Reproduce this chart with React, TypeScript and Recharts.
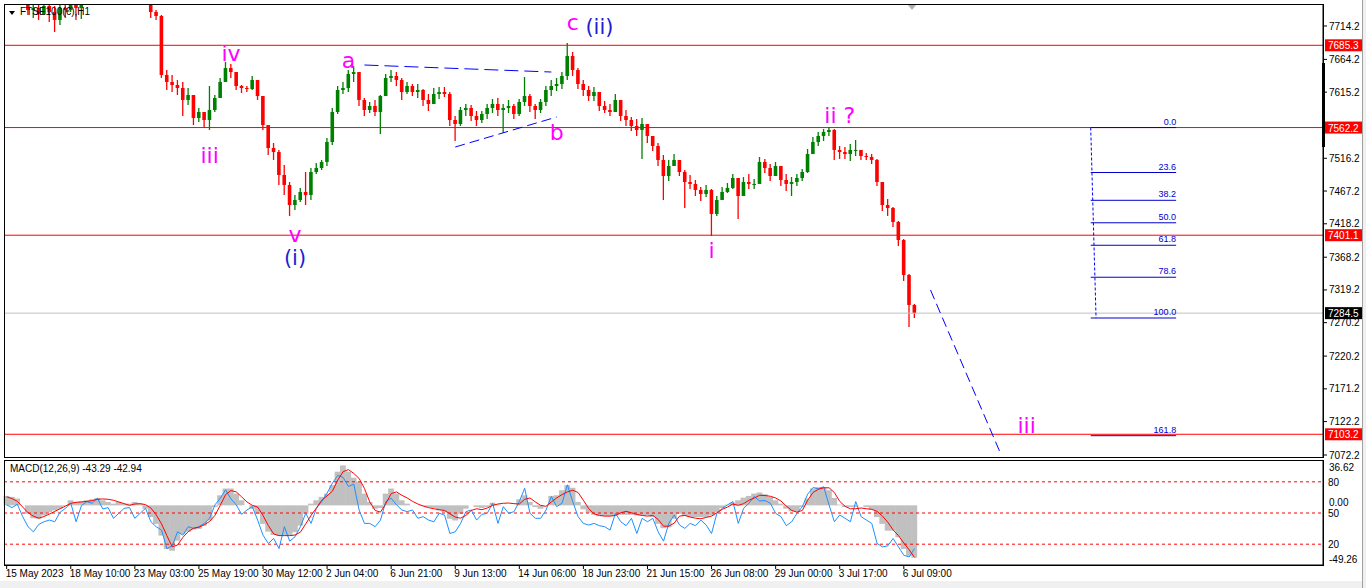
import React from "react";
import { ComposedChart, Bar, Line, XAxis, YAxis, ReferenceLine, ReferenceDot } from "recharts";

const FONT = "'Liberation Sans', Arial, sans-serif";
const WAVE_FONT = "'DejaVu Sans', sans-serif";
const MAGENTA = "#ff00ff";
const NAVY = "#1f1fd0";
const FIB_BLUE = "#0000cd";
const UP = "#008000";
const DOWN = "#ff0000";

// hourly slots on the time axis (data + empty space to the right)
const SLOTS = 247;

// FTSE100 H1 candles (open = previous close)
const firstOpen = 7762;
const highs = [
  7782, 7778, 7772, 7770, 7762, 7758, 7755, 7760, 7757, 7744.1,
  7752, 7760, 7765, 7762, 7765, 7778, 7790, 7798, 7795, 7792,
  7805, 7800, 7790, 7785, 7782, 7775, 7768, 7760, 7738.1, 7730.7,
  7648.3, 7640.9, 7633.4, 7630.4, 7621.4, 7610.9, 7591.5, 7585.5, 7624.4, 7610.9,
  7636.4, 7660.3, 7657.3, 7645.3, 7625.9, 7624.4, 7639.4, 7633.4, 7609.4, 7566.0,
  7539.1, 7528.7, 7506.2, 7480.7, 7461.3, 7471.8, 7495.7, 7501.7, 7509.2, 7513.7,
  7546.6, 7591.5, 7624.4, 7630.4, 7648.3, 7654.3, 7642.4, 7606.4, 7600.5, 7603.5,
  7610.9, 7642.4, 7648.3, 7645.3, 7636.4, 7630.4, 7627.4, 7627.4, 7619.9, 7612.4,
  7621.4, 7622.9, 7622.9, 7615.4, 7579.5, 7593.0, 7597.5, 7596.0, 7587.0, 7587.0,
  7597.5, 7604.9, 7606.4, 7597.5, 7603.5, 7597.5, 7604.9, 7637.9, 7612.4, 7597.5,
  7604.9, 7624.4, 7633.4, 7636.4, 7645.3, 7688.8, 7675.3, 7651.3, 7633.4, 7624.4,
  7622.9, 7607.9, 7602.0, 7597.5, 7612.4, 7603.5, 7588.5, 7578.0, 7575.0, 7576.5,
  7567.5, 7549.6, 7539.1, 7521.1, 7513.7, 7522.6, 7512.2, 7498.7, 7491.2, 7483.7,
  7473.3, 7476.3, 7470.3, 7459.8, 7473.3, 7479.2, 7492.7, 7477.8, 7488.2, 7492.7,
  7485.2, 7518.1, 7515.2, 7507.7, 7510.7, 7503.2, 7492.7, 7488.2, 7492.7, 7500.2,
  7530.1, 7548.1, 7555.6, 7560.1, 7562.2, 7560.1, 7534.6, 7533.1, 7537.6, 7543.6,
  7525.6, 7524.1, 7522.6, 7515.2, 7479.2, 7455.3, 7443.3, 7422.4, 7395.4, 7343.1,
  7298.2,
];
const lows = [
  7756, 7752, 7750, 7748, 7730.7, 7726.2, 7723.2, 7730.7, 7720.2, 7705.2,
  7715.7, 7726.2, 7735.1, 7723.2, 7724.7, 7747, 7760, 7772, 7770, 7765,
  7778, 7775, 7762, 7758, 7755, 7750, 7747, 7726.2, 7723.2, 7636.4,
  7618.4, 7615.4, 7610.9, 7579.5, 7596.0, 7566.0, 7570.5, 7561.6, 7558.6, 7585.5,
  7606.4, 7630.4, 7636.4, 7618.4, 7613.9, 7615.4, 7618.4, 7603.5, 7558.6, 7521.1,
  7513.7, 7476.3, 7461.3, 7429.9, 7438.8, 7450.8, 7446.3, 7453.8, 7492.7, 7498.7,
  7504.7, 7536.1, 7582.5, 7612.4, 7615.4, 7630.4, 7594.5, 7579.5, 7584.0, 7579.5,
  7552.6, 7609.4, 7630.4, 7624.4, 7603.5, 7612.4, 7609.4, 7606.4, 7594.5, 7587.0,
  7597.5, 7604.9, 7607.9, 7564.5, 7542.1, 7564.5, 7579.5, 7572.0, 7564.5, 7569.0,
  7575.0, 7584.0, 7579.5, 7554.1, 7584.0, 7575.0, 7579.5, 7594.5, 7585.5, 7575.0,
  7584.0, 7594.5, 7609.4, 7616.9, 7619.9, 7633.4, 7639.4, 7619.9, 7609.4, 7602.0,
  7602.0, 7587.0, 7584.0, 7579.5, 7585.5, 7572.0, 7564.5, 7557.1, 7549.6, 7515.2,
  7539.1, 7527.1, 7504.7, 7453.8, 7482.2, 7504.7, 7489.7, 7441.8, 7470.3, 7459.8,
  7452.3, 7458.3, 7399.9, 7429.9, 7456.8, 7464.3, 7470.3, 7425.4, 7459.8, 7470.3,
  7470.3, 7482.2, 7494.2, 7482.2, 7489.7, 7474.8, 7467.3, 7459.8, 7474.8, 7482.2,
  7494.2, 7524.1, 7534.6, 7542.1, 7549.6, 7513.7, 7515.2, 7515.2, 7512.2, 7519.6,
  7513.7, 7513.7, 7507.7, 7474.8, 7437.4, 7429.9, 7413.4, 7385.0, 7332.6, 7263.7,
  7277.2,
];
const closes = [
  7768, 7760, 7757, 7752, 7738.1, 7741.1, 7732.2, 7744.1, 7735.1, 7723.2,
  7741.1, 7738.1, 7752, 7741.1, 7750, 7768, 7782, 7785, 7778, 7788,
  7795, 7783, 7770, 7775, 7765, 7758, 7752, 7735.1, 7729.2, 7640.9,
  7630.4, 7625.9, 7621.4, 7603.5, 7610.9, 7576.5, 7585.5, 7573.5, 7588.5, 7606.4,
  7630.4, 7651.3, 7645.3, 7624.4, 7621.4, 7619.9, 7633.4, 7609.4, 7566.0, 7531.6,
  7525.6, 7491.2, 7476.3, 7446.3, 7453.8, 7465.8, 7461.3, 7495.7, 7501.7, 7510.7,
  7540.6, 7585.5, 7618.4, 7621.4, 7642.4, 7645.3, 7603.5, 7588.5, 7594.5, 7585.5,
  7609.4, 7636.4, 7639.4, 7633.4, 7615.4, 7624.4, 7615.4, 7618.4, 7603.5, 7597.5,
  7612.4, 7615.4, 7612.4, 7573.5, 7567.5, 7588.5, 7591.5, 7579.5, 7573.5, 7582.5,
  7591.5, 7597.5, 7588.5, 7591.5, 7594.5, 7582.5, 7600.5, 7609.4, 7594.5, 7588.5,
  7600.5, 7618.4, 7624.4, 7627.4, 7639.4, 7669.3, 7648.3, 7627.4, 7618.4, 7609.4,
  7615.4, 7594.5, 7588.5, 7585.5, 7603.5, 7579.5, 7573.5, 7564.5, 7558.6, 7567.5,
  7549.6, 7534.6, 7513.7, 7489.7, 7504.7, 7513.7, 7495.7, 7480.7, 7477.8, 7468.8,
  7462.8, 7468.8, 7432.9, 7453.8, 7465.8, 7471.8, 7486.7, 7459.8, 7480.7, 7477.8,
  7477.8, 7510.7, 7501.7, 7489.7, 7504.7, 7483.7, 7477.8, 7480.7, 7486.7, 7495.7,
  7522.6, 7540.6, 7549.6, 7555.6, 7558.6, 7528.7, 7525.6, 7522.6, 7528.7, 7528.7,
  7519.6, 7518.1, 7513.7, 7480.7, 7446.3, 7441.8, 7420.9, 7393.9, 7341.6, 7296.7,
  7284.5,
];

// MACD(12,26,9): main (gray histogram) and signal (red)
const macdMain = [
  7.8, 7.0, 5.6, 0, -7.0, -10.6, -11.1, -8.3, -5.6, -4.2,
  -2.8, -0.6, 4.2, 2.8, 3.3, 4.2, 5.0, 6.1, 4.2, 2.8,
  1.4, 2.8, 1.4, 1.4, 2.8, 1.4, -2.8, -9.7, -15.3, -25.0,
  -36.1, -37.5, -29.2, -23.6, -21.7, -20.0, -19.5, -16.7, -12.5, -1.4,
  8.3, 13.9, 13.9, 9.7, 4.2, 0, -2.8, -7.0, -15.3, -21.7,
  -24.5, -25.0, -25.0, -25.0, -22.2, -16.7, -7.0, 1.4, 4.2, 7.0,
  9.7, 16.7, 27.8, 33.0, 27.8, 22.8, 19.5, 9.7, 2.8, -2.8,
  -2.2, 9.7, 13.9, 9.7, 4.2, 1.4, 0, 0, -0.6, -1.4,
  -2.2, -4.2, -5.6, -11.1, -12.5, -7.0, -2.8, 0, -1.4, -2.2,
  -1.4, 2.2, 0.6, 0, 0, 0, 5.0, 8.3, 2.8, -1.4,
  -2.8, 0, 7.8, 8.3, 12.5, 16.7, 14.5, 2.8, -3.3, -6.1,
  -7.8, -8.9, -8.9, -8.9, -8.3, -7.8, -7.8, -7.8, -8.3, -8.3,
  -8.3, -9.7, -15.3, -18.9, -18.1, -11.1, -7.0, -8.9, -9.7, -9.7,
  -9.7, -9.7, -8.3, -5.6, -2.2, 0.6, 2.2, 4.2, 6.4, 7.8,
  9.7, 10.6, 9.2, 7.0, 4.2, 1.4, -2.8, -5.0, -5.0, -1.4,
  5.6, 13.9, 15.0, 14.7, 12.5, 6.1, 0.6, -1.4, -1.4, -1.4,
  0, -1.4, -3.6, -9.7, -15.3, -20.9, -20.9, -26.4, -36.1, -41.7,
  -43.29,
];
const macdSignal = [
  7.0, 5.6, 3.3, -1.4, -6.1, -8.9, -10.6, -9.2, -7.2, -5.0,
  -2.8, -0.6, 1.7, 2.5, 2.8, 3.3, 3.9, 5.0, 5.3, 5.0,
  4.2, 2.8, 1.4, 0, 1.1, 1.4, 0.6, -2.2, -7.8, -15.3,
  -25.0, -34.2, -32.8, -26.4, -21.7, -18.9, -18.1, -16.1, -13.3, -8.3,
  0, 8.9, 12.2, 11.1, 7.0, 2.8, 0, -1.4, -8.3, -16.7,
  -23.6, -25.0, -25.0, -25.0, -24.5, -22.2, -15.3, -8.3, -2.2, 4.2,
  7.8, 11.7, 20.9, 27.8, 29.5, 26.4, 22.2, 13.9, 2.8, -4.2,
  -5.6, 1.4, 9.7, 11.1, 8.3, 6.1, 3.3, 1.1, -0.6, -1.9,
  -2.8, -3.6, -4.2, -7.0, -9.7, -10.6, -8.3, -4.2, -2.8, -3.6,
  -2.2, 0, 1.1, 1.7, 1.9, 1.4, 1.1, 5.0, 6.1, 2.8,
  0, -0.8, 2.8, 6.1, 8.9, 11.1, 12.5, 10.6, 4.2, -2.8,
  -7.0, -8.3, -8.9, -8.9, -8.3, -6.1, -5.0, -6.1, -7.5, -8.3,
  -8.9, -8.3, -11.7, -17.2, -17.2, -14.7, -8.9, -8.3, -9.7, -10.6,
  -11.1, -10.0, -8.9, -6.1, -3.3, -1.4, 1.1, 0, 1.4, 4.2,
  6.1, 8.3, 8.1, 7.5, 6.1, 3.6, -0.6, -4.2, -5.6, -4.2,
  4.2, 10.6, 13.3, 14.5, 14.5, 10.6, 3.3, -0.8, -2.8, -2.8,
  -2.2, -2.8, -3.3, -5.0, -8.9, -13.9, -20.3, -25.0, -31.1, -36.7,
  -42.94,
];
// blue oscillator (0..100 scale, levels 80/50/20)
const oscLine = [
  57.8, 55.2, 58.4, 46.5, 36.8, 31.9, 39.0, 41.6, 43.2, 41.6,
  50.7, 54.5, 59.4, 41.6, 57.1, 61.0, 59.4, 64.2, 53.9, 55.2,
  44.9, 49.7, 54.5, 55.2, 44.9, 49.7, 54.5, 41.6, 36.8, 33.6,
  15.8, 18.4, 31.9, 28.7, 36.8, 35.2, 36.8, 40.0, 44.9, 57.8,
  64.2, 72.3, 63.6, 57.8, 48.7, 52.9, 56.1, 43.2, 28.7, 20.7,
  25.5, 15.8, 36.8, 22.9, 27.1, 36.8, 49.7, 40.0, 54.5, 61.0,
  69.1, 78.7, 86.2, 84.2, 75.5, 77.8, 52.9, 40.0, 40.0, 36.8,
  43.2, 61.0, 64.2, 57.8, 52.9, 51.3, 52.9, 44.9, 46.5, 43.2,
  41.6, 49.7, 48.1, 30.3, 31.9, 40.0, 51.3, 52.9, 43.2, 48.7,
  49.7, 59.4, 40.0, 56.1, 49.7, 51.3, 61.0, 73.9, 49.7, 44.9,
  44.9, 52.9, 65.8, 56.1, 59.4, 77.1, 61.0, 46.5, 40.0, 38.4,
  40.0, 37.8, 36.8, 33.6, 49.7, 41.6, 37.8, 44.9, 30.3, 44.9,
  41.6, 44.9, 31.9, 22.9, 40.0, 48.1, 38.4, 35.2, 40.0, 37.8,
  43.2, 38.4, 30.3, 49.7, 54.5, 57.8, 61.0, 40.0, 54.5, 59.4,
  65.8, 61.6, 62.0, 59.4, 49.7, 46.5, 37.8, 41.6, 49.7, 56.1,
  68.1, 74.5, 73.3, 75.2, 57.8, 41.6, 48.1, 44.9, 41.6, 61.0,
  46.5, 43.2, 40.0, 20.7, 17.4, 18.4, 25.5, 17.4, 9.4, 7.7,
  15.8,
];

const timeLabels = [
  "15 May 2023", "18 May 10:00", "23 May 03:00", "25 May 19:00", "30 May 12:00",
  "2 Jun 04:00", "6 Jun 21:00", "9 Jun 13:00", "14 Jun 06:00", "18 Jun 23:00",
  "21 Jun 15:00", "26 Jun 08:00", "29 Jun 00:00", "3 Jul 17:00", "6 Jul 09:00",
];
const timeTicks = timeLabels.map((_, k) => k * 12);

const priceTicks = [7714.2, 7664.2, 7615.2, 7516.2, 7467.2, 7418.2, 7368.2, 7319.2, 7270.2, 7220.2, 7171.2, 7122.2, 7072.2];
const levelLines = [7685.3, 7562.2, 7401.1, 7103.2];
const lastPrice = 7284.5;
const macdTicks = [36.62, 0, -49.26];
const oscLevels = [80, 50, 20];

// fibonacci retracement drawn between these two prices
const fibTop = 7562.2;
const fibBottom = 7277.2;
const fibRatios = [0, 23.6, 38.2, 50, 61.8, 78.6, 100, 161.8];
const fibStart = 203;
const fibEnd = 219;

// elliott wave labels: text, time slot, baseline price, colour
const waveLabels = [
  { text: "iv", slot: 42, price: 7661.8, color: MAGENTA },
  { text: "iii", slot: 38, price: 7509.2, color: MAGENTA },
  { text: "v", slot: 54, price: 7391.0, color: MAGENTA },
  { text: "(i)", slot: 54, price: 7356.0, color: NAVY },
  { text: "a", slot: 64, price: 7651.3, color: MAGENTA },
  { text: "b", slot: 103, price: 7543.6, color: MAGENTA },
  { text: "c", slot: 106, price: 7708.2, color: MAGENTA },
  { text: "(ii)", slot: 111, price: 7702.2, color: NAVY },
  { text: "i", slot: 132, price: 7367.0, color: MAGENTA },
  { text: "ii ?", slot: 156, price: 7569.0, color: MAGENTA },
  { text: "iii", slot: 191, price: 7105.1, color: MAGENTA },
];

// trend lines drawn on the chart
const trendLines = [
  { from: { x: 67, y: 7655.8 }, to: { x: 102, y: 7645.3 }, dash: "14 6" },
  { from: { x: 84, y: 7533.1 }, to: { x: 103, y: 7578.0 }, dash: "10 5" },
  { from: { x: 173, y: 7319.1 }, to: { x: 186, y: 7076.7 }, dash: "10 5" },
];

const rows = Array.from({ length: SLOTS }, (_, i) => {
  if (i >= closes.length) return { slot: i };
  const open = i === 0 ? firstOpen : closes[i - 1];
  return {
    slot: i,
    open,
    high: highs[i],
    low: lows[i],
    close: closes[i],
    range: [lows[i], highs[i]],
    macd: macdMain[i],
    signal: macdSignal[i],
    osc: oscLine[i],
  };
});

function Candle(props: any) {
  const { x, y, width, height, payload } = props;
  if (payload == null || payload.high == null) return null;
  const top = Math.min(y, y + height);
  const bottom = Math.max(y, y + height);
  const span = payload.high - payload.low || 1;
  const toY = (v: number) => top + ((payload.high - v) / span) * (bottom - top);
  const cx = x + width / 2;
  const up = payload.close >= payload.open;
  const color = up ? UP : DOWN;
  const oy = toY(payload.open);
  const cy = toY(payload.close);
  return (
    <g>
      <line x1={cx} x2={cx} y1={top} y2={bottom} stroke={color} strokeWidth={1.3} />
      <rect x={cx - 1.8} y={Math.min(oy, cy)} width={3.6} height={Math.max(1, Math.abs(oy - cy))} fill={color} />
    </g>
  );
}

function HistBar(props: any) {
  const { x, y, width, height } = props;
  if (![x, y, width, height].every((v) => Number.isFinite(v))) return null;
  const top = Math.min(y, y + height);
  return <rect x={x - 0.4} y={top} width={width + 0.8} height={Math.abs(height)} fill="#c0c0c0" />;
}

const priceTag = (text: string, bg: string) => (props: any) => {
  const { viewBox } = props;
  const x = viewBox.x + viewBox.width;
  const y = viewBox.y;
  return (
    <g>
      <rect x={x + 2} y={y - 6} width={37} height={12} fill={bg} />
      <text x={x + 5} y={y + 4} fill="#fff" fontSize={10} fontFamily={FONT}>
        {text}
      </text>
    </g>
  );
};

const fibLabel = (text: string) => (props: any) => {
  const { viewBox } = props;
  return (
    <text x={viewBox.x + viewBox.width} y={viewBox.y - 3} textAnchor="end" fontSize={9} fill={FIB_BLUE} fontFamily={FONT}>
      {text}
    </text>
  );
};

const levelLabel = (text: string) => (props: any) => {
  const { viewBox } = props;
  return (
    <text x={viewBox.x + viewBox.width + 5} y={viewBox.y + 4} fontSize={10} fill="#000" fontFamily={FONT}>
      {text}
    </text>
  );
};

function TimeTick(props: any) {
  const { x, y, payload } = props;
  const label = timeLabels[Math.round(payload.value / 12)];
  return (
    <text x={x - 1} y={y + 6} textAnchor="start" fontSize={10} fill="#000" fontFamily={FONT}>
      {label}
    </text>
  );
}

function MacdTick(props: any) {
  const { x, y, payload } = props;
  const v = payload.value;
  const shift = v > 1 ? 10 : v < -1 ? -2 : 1;
  return (
    <text x={x} y={y + shift} textAnchor="start" fontSize={10} fill="#000" fontFamily={FONT}>
      {v.toFixed(2)}
    </text>
  );
}

export default function App() {
  const fibPrice = (r: number) => fibTop - ((fibTop - fibBottom) * r) / 100;
  return (
    <div
      style={{
        position: "absolute",
        left: 0,
        top: 0,
        width: 1366,
        height: 588,
        background: "#fff",
        overflow: "hidden",
        fontFamily: FONT,
      }}
    >
      <div style={{ position: "absolute", left: 0, top: 0 }}>
        <ComposedChart width={1366} height={462} data={rows} margin={{ top: 5, right: 0, bottom: 5, left: 4 }}>
          <XAxis dataKey="slot" type="category" hide />
          <YAxis
            orientation="right"
            domain={[7069.2, 7745.6]}
            allowDataOverflow
            ticks={priceTicks}
            interval={0}
            width={43}
            tickSize={4}
            tickMargin={2}
            tick={{ fontSize: 10, fill: "#000", fontFamily: FONT }}
            axisLine={{ stroke: "#000" }}
            tickLine={{ stroke: "#000" }}
          />
          {levelLines.map((p) => (
            <ReferenceLine key={p} y={p} stroke="#ff0000" strokeWidth={1} label={priceTag(p.toFixed(1), "#ff0000")} />
          ))}
          <ReferenceLine y={lastPrice} stroke="#c0c0c0" label={priceTag(lastPrice.toFixed(1), "#000")} />
          <Bar dataKey="range" shape={(p: any) => <Candle {...p} />} isAnimationActive={false} />
          {fibRatios.map((r) => (
            <ReferenceLine
              key={r}
              segment={[
                { x: fibStart, y: fibPrice(r) },
                { x: fibEnd, y: fibPrice(r) },
              ]}
              stroke={FIB_BLUE}
              strokeWidth={1}
              label={fibLabel(r.toFixed(1))}
            />
          ))}
          <ReferenceLine
            segment={[
              { x: fibStart, y: fibTop },
              { x: fibStart + 1, y: fibBottom },
            ]}
            stroke="#0000ff"
            strokeDasharray="3 2"
          />
          {trendLines.map((t, k) => (
            <ReferenceLine key={k} segment={[t.from, t.to]} stroke="#0000ff" strokeWidth={1} strokeDasharray={t.dash} />
          ))}
          {waveLabels.map((w, k) => (
            <ReferenceDot
              key={k}
              x={w.slot}
              y={w.price}
              r={0}
              ifOverflow="visible"
              shape={(p: any) => (
                <text x={p.cx} y={p.cy} textAnchor="middle" fontSize={w.color === NAVY ? 21 : 22} fill={w.color} fontFamily={WAVE_FONT}>
                  {w.text}
                </text>
              )}
            />
          ))}
        </ComposedChart>
      </div>

      <div style={{ position: "absolute", left: 0, top: 455 }}>
        <ComposedChart width={1366} height={133} data={rows} margin={{ top: 6, right: 0, bottom: 0, left: 4 }} barCategoryGap={0}>
          <XAxis
            dataKey="slot"
            type="category"
            ticks={timeTicks}
            interval={0}
            height={23}
            tickSize={4}
            tick={<TimeTick />}
            axisLine={{ stroke: "#000" }}
            tickLine={{ stroke: "#000" }}
          />
          <YAxis
            yAxisId="macd"
            orientation="right"
            domain={[-49.26, 36.62]}
            allowDataOverflow
            ticks={macdTicks}
            interval={0}
            width={43}
            tickSize={4}
            tickMargin={2}
            tick={<MacdTick />}
            tickLine={false}
            axisLine={{ stroke: "#000" }}
          />
          <YAxis yAxisId="osc" domain={[0, 100]} hide />
          <Bar yAxisId="macd" dataKey="macd" fill="#c0c0c0" shape={(p: any) => <HistBar {...p} />} isAnimationActive={false} />
          {oscLevels.map((v) => (
            <ReferenceLine key={v} yAxisId="osc" y={v} stroke="#ff0000" strokeDasharray="3 3" label={levelLabel(String(v))} />
          ))}
          <Line yAxisId="osc" dataKey="osc" stroke="#1e90ff" strokeWidth={1} dot={false} isAnimationActive={false} />
          <Line yAxisId="macd" dataKey="signal" stroke="#ff0000" strokeWidth={1} dot={false} isAnimationActive={false} />
        </ComposedChart>
      </div>

      {/* pane frames */}
      <div style={{ position: "absolute", left: 4, top: 4, width: 1320, height: 454, border: "1px solid #000", boxSizing: "border-box", pointerEvents: "none" }} />
      <div style={{ position: "absolute", left: 4, top: 460, width: 1320, height: 106, border: "1px solid #000", boxSizing: "border-box", pointerEvents: "none" }} />
      <div style={{ position: "absolute", left: 1322, top: 63, width: 3, height: 84, background: "#000" }} />
      <div style={{ position: "absolute", left: 0, top: 581, width: 1366, height: 7, background: "#f0f0f0" }} />
      <div style={{ position: "absolute", left: 1362, top: 0, width: 4, height: 588, background: "#f0f0f0", borderLeft: "1px solid #a0a0a0" }} />
      <div style={{ position: "absolute", left: 908, top: 5, width: 0, height: 0, borderLeft: "4px solid transparent", borderRight: "4px solid transparent", borderTop: "5px solid #b0b0b0" }} />

      {/* titles */}
      <div style={{ position: "absolute", left: 9, top: 11, width: 0, height: 0, borderLeft: "3px solid transparent", borderRight: "3px solid transparent", borderTop: "4px solid #000" }} />
      <div style={{ position: "absolute", left: 20, top: 6, fontSize: 10, color: "#000", whiteSpace: "nowrap" }}>FTSE100(€),H1</div>
      <div style={{ position: "absolute", left: 10, top: 463, fontSize: 10, color: "#000", whiteSpace: "nowrap" }}>MACD(12,26,9) -43.29 -42.94</div>
    </div>
  );
}
